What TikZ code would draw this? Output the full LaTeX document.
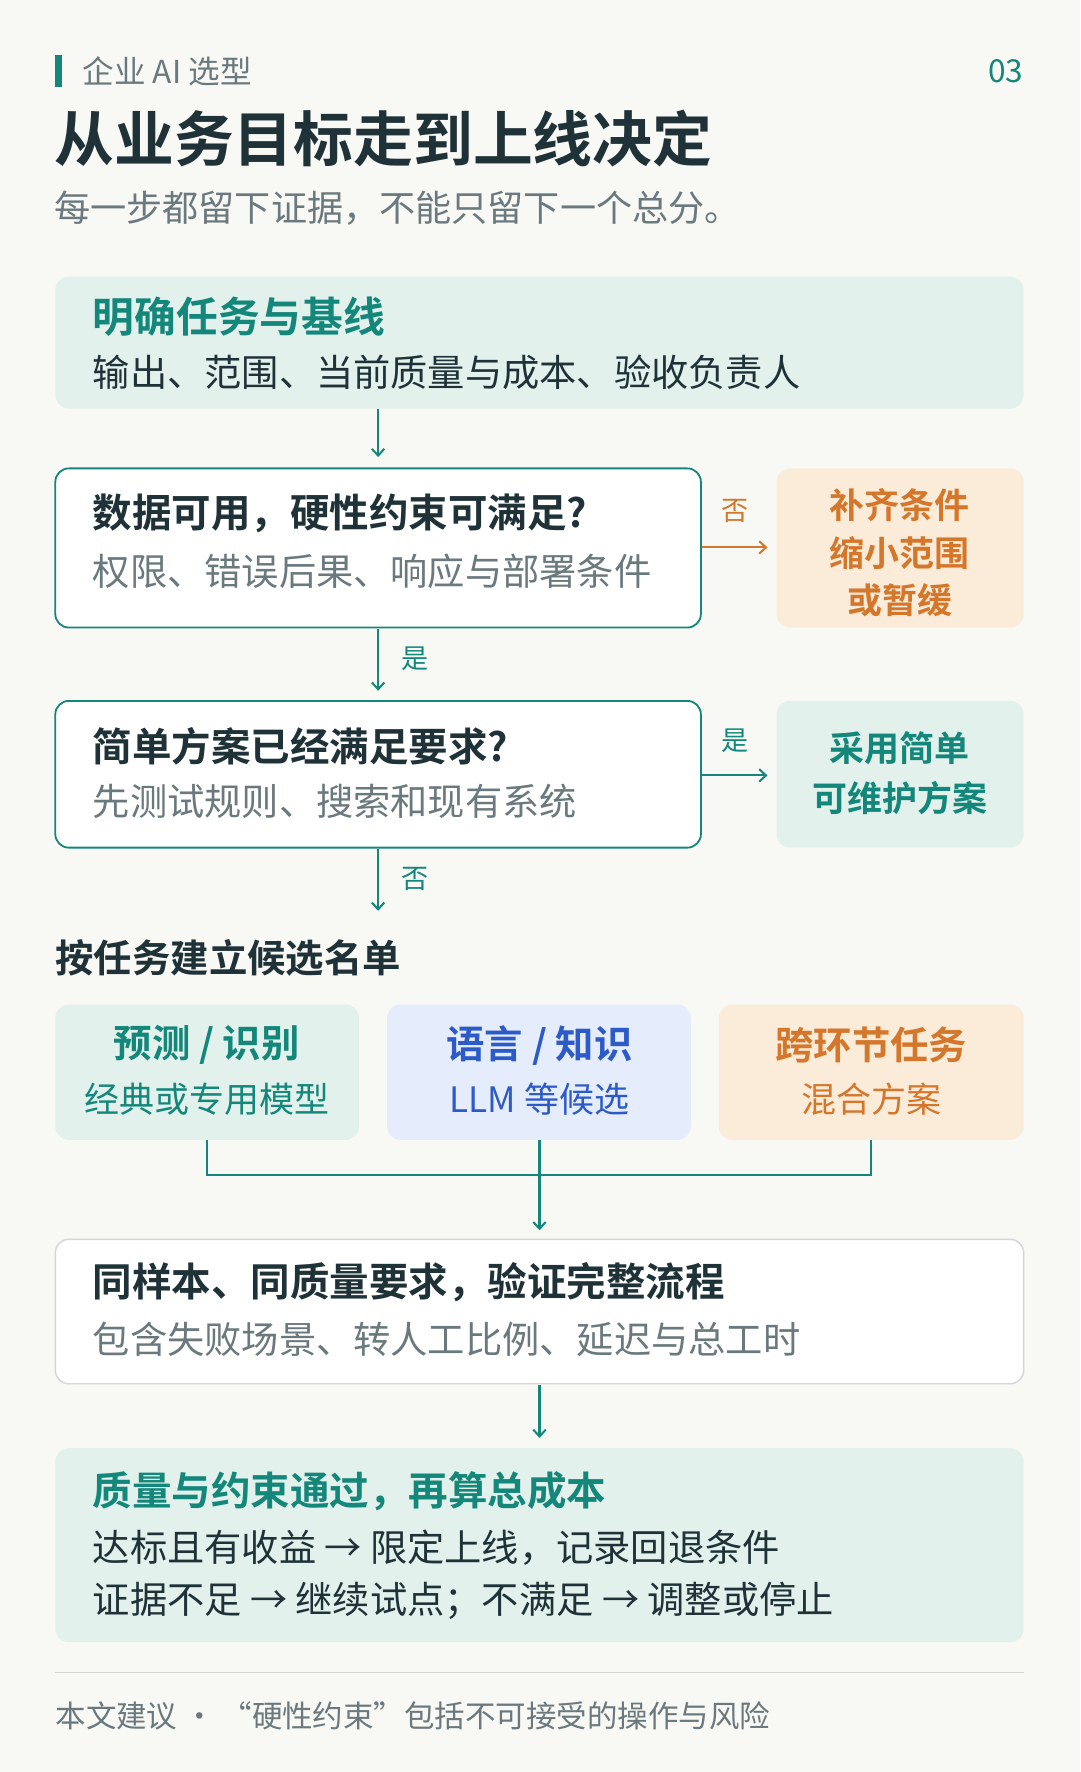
\documentclass[tikz,border=0pt]{standalone}
\usepackage{fontspec}
\setmainfont{Noto Sans CJK SC}[BoldFont={* Bold}]
\usetikzlibrary{arrows.meta}
\definecolor{bg}{HTML}{F8F8F4}
\definecolor{teal}{HTML}{13877A}
\definecolor{dark}{HTML}{1F3238}
\definecolor{gray}{HTML}{6A797D}
\definecolor{lgreen}{HTML}{E3F1EC}
\definecolor{lorange}{HTML}{FBEBD9}
\definecolor{orange}{HTML}{D5772B}
\definecolor{lblue}{HTML}{E5ECFB}
\definecolor{blue}{HTML}{2C5BC8}
\definecolor{lineg}{HTML}{D3D8D6}
\begin{document}
\begin{tikzpicture}[x=1pt,y=-1pt,
  fs/.style={font=\fontsize{#1}{#1}\selectfont},
  fb/.style={font=\fontsize{#1}{#1}\bfseries\selectfont},
  tx/.style={anchor=west,inner sep=0pt},
  ct/.style={anchor=center,inner sep=0pt,align=center},
  box/.style={rounded corners=12pt},
  arr/.style={-{Straight Barb[length=6pt,width=11pt]},line width=1.8pt,teal},
  lab/.style={inner sep=0pt,fs=24,teal}]
\fill[bg] (0,0) rectangle (957,1570);
\useasboundingbox (0,0) rectangle (957,1570);
% header
\fill[teal] (49,49) rectangle (55,77);
\node[tx,fs=28,gray] (hd) at (73,63) {企业 AI 选型};
\node[anchor=east,inner sep=0pt,fs=28,teal] (pg) at (907,63) {03};
\node[tx,fb=53,dark] (title) at (48,123) {从业务目标走到上线决定};
\node[tx,fs=32,gray] (sub) at (48,184) {每一步都留下证据，不能只留下一个总分。};
% box1
\fill[lgreen,box] (49,245) rectangle (907,362);
\coordinate (b1) at (335,362);
\node[tx,fb=37,teal] (b1t) at (82,281) {明确任务与基线};
\node[tx,fs=33,dark] (b1s) at (82,330) {输出、范围、当前质量与成本、验收负责人};
% box2
\draw[teal,line width=1.6pt,fill=white,box] (49,415) rectangle (621,556);
\coordinate (b2r) at (622,485);
\coordinate (b2b) at (335,557);
\node[tx,fb=35,dark] (b2t) at (82,455) {数据可用，硬性约束可满足?};
\node[tx,fs=33,gray] (b2s) at (82,506) {权限、错误后果、响应与部署条件};
\fill[lorange,box] (688,415) rectangle (907,556);
\coordinate (o1) at (680,485);
\node[ct,fb=31,orange] (o1t) at (797,490) {补齐条件\\[11pt]缩小范围\\[11pt]或暂缓};
% box3
\draw[teal,line width=1.6pt,fill=white,box] (49,621) rectangle (621,751);
\coordinate (b3top) at (335,612);
\coordinate (b3r) at (622,687);
\coordinate (b3b) at (335,752);
\node[tx,fb=35,dark] (b3t) at (82,661) {简单方案已经满足要求?};
\node[tx,fs=33,gray] (b3s) at (82,710) {先测试规则、搜索和现有系统};
\fill[lgreen,box] (688,621) rectangle (907,751);
\coordinate (g1) at (680,687);
\node[ct,fb=31,teal] (g1t) at (797,685) {采用简单\\[14pt]可维护方案};
% arrows
\draw[arr] (b1) -- (335,405);
\draw[arr] (b2b) -- (b3top);
\draw[arr,orange] (b2r) -- (o1);
\draw[arr] (b3r) -- (g1);
\coordinate (h) at (335,807);
\draw[arr] (b3b) -- (h);
\node[lab,orange] (l1) at (651,453) {否};
\node[lab] (l2) at (368,584) {是};
\node[lab] (l3) at (651,656) {是};
\node[lab] (l4) at (368,779) {否};
% candidates
\node[tx,fb=34,dark] (cand) at (49,849) {按任务建立候选名单};
\fill[lgreen,box] (49,890) rectangle (318,1010);
\fill[lblue,box] (343,890) rectangle (612,1010);
\fill[lorange,box] (637,890) rectangle (907,1010);
\node[ct,fb=34,teal] (c1t) at (183,926) {预测 / 识别};
\node[ct,fs=31,teal] (c1s) at (183,974) {经典或专用模型};
\node[ct,fb=34,blue] (c2t) at (478,926) {语言 / 知识};
\node[ct,fs=31,blue] (c2s) at (478,974) {LLM 等候选};
\node[ct,fb=34,orange] (c3t) at (772,926) {跨环节任务};
\node[ct,fs=31,orange] (c3s) at (772,974) {混合方案};
\coordinate (c1) at (183,1010);
\coordinate (c2) at (478,1010);
\coordinate (c3) at (772,1010);
\draw[teal,line width=1.8pt] (c1) -- (183,1041) -- (772,1041) -- (c3);
\draw[arr] (c2) -- (478,1090);
% box4
\draw[lineg,line width=1.3pt,fill=white,box] (49,1098) rectangle (907,1226);
\node[tx,fb=35,dark] (b4t) at (82,1136) {同样本、同质量要求，验证完整流程};
\node[tx,fs=33,gray] (b4s) at (82,1187) {包含失败场景、转人工比例、延迟与总工时};
\draw[arr] (478,1227) -- (478,1274);
% box5
\fill[lgreen,box] (49,1283) rectangle (907,1455);
\node[tx,fb=35,teal] (b5t) at (82,1321) {质量与约束通过，再算总成本};
\node[tx,fs=33,dark] (b5a) at (82,1371) {达标且有收益 → 限定上线，记录回退条件};
\node[tx,fs=33,dark] (b5b) at (82,1418) {证据不足 → 继续试点；不满足 → 调整或停止};
% footer
\draw[lineg,line width=1pt] (49,1482) -- (907,1482);
\node[tx,fs=27,gray] (ft) at (49,1520) {本文建议 · “硬性约束”包括不可接受的操作与风险};
\end{tikzpicture}
\end{document}
